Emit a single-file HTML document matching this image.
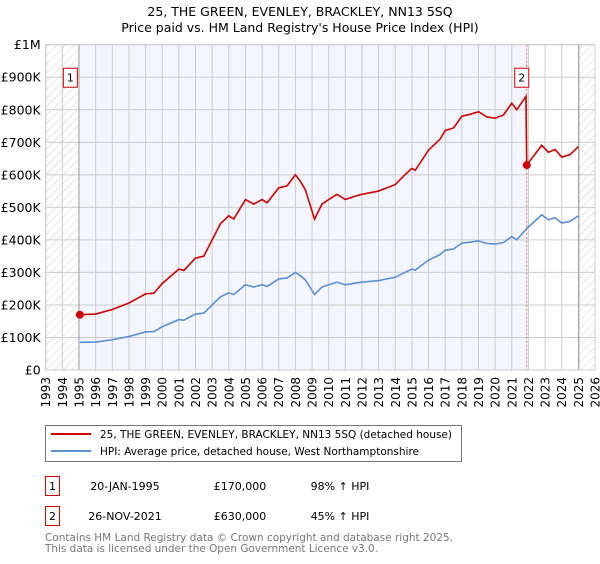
<!DOCTYPE html>
<html><head><meta charset="utf-8"><style>
body{margin:0;background:#fff;font-family:"DejaVu Sans","Liberation Sans",sans-serif;}
svg text{font-family:"DejaVu Sans","Liberation Sans",sans-serif;}
</style></head><body>
<svg id="c" width="600" height="560" xmlns="http://www.w3.org/2000/svg">
<defs><pattern id="hatch" width="6" height="6" patternUnits="userSpaceOnUse" patternTransform="rotate(45)"><line x1="0" y1="0" x2="0" y2="6" stroke="#ccc" stroke-width="1"/></pattern></defs>
<text x="300" y="16" text-anchor="middle" font-size="12.5">25, THE GREEN, EVENLEY, BRACKLEY, NN13 5SQ</text>
<text x="300" y="32" text-anchor="middle" font-size="12.5">Price paid vs. HM Land Registry's House Price Index (HPI)</text>
<g id="plot"></g>
<g>
<rect x="45.5" y="425.5" width="416" height="36" fill="#fff" stroke="#777"/>
<line x1="51" y1="434" x2="91" y2="434" stroke="#cc0000" stroke-width="2"/>
<text x="100" y="438" font-size="11" textLength="352" lengthAdjust="spacingAndGlyphs">25, THE GREEN, EVENLEY, BRACKLEY, NN13 5SQ (detached house)</text>
<line x1="51" y1="451" x2="91" y2="451" stroke="#5b8fd4" stroke-width="2"/>
<text x="100" y="455" font-size="11" textLength="319" lengthAdjust="spacingAndGlyphs">HPI: Average price, detached house, West Northamptonshire</text>
</g>
<g font-size="11">
<rect x="45.5" y="476.5" width="14" height="19" fill="#fff" stroke="#cc0000"/>
<text x="52.5" y="490" text-anchor="middle">1</text>
<text x="125" y="490" text-anchor="middle">20-JAN-1995</text>
<text x="240" y="490" text-anchor="middle">£170,000</text>
<text x="340" y="490" text-anchor="middle">98% ↑ HPI</text>
<rect x="45.5" y="506.5" width="14" height="19" fill="#fff" stroke="#cc0000"/>
<text x="52.5" y="520" text-anchor="middle">2</text>
<text x="125" y="520" text-anchor="middle">26-NOV-2021</text>
<text x="240" y="520" text-anchor="middle">£630,000</text>
<text x="340" y="520" text-anchor="middle">45% ↑ HPI</text>
</g>
<text x="45" y="541" font-size="11" fill="#777" textLength="408" lengthAdjust="spacingAndGlyphs">Contains HM Land Registry data © Crown copyright and database right 2025.</text>
<text x="45" y="552" font-size="11" fill="#777" textLength="333" lengthAdjust="spacingAndGlyphs">This data is licensed under the Open Government Licence v3.0.</text>
</svg>
<script>
const hpiYears=[1995.05,1996,1997,1998,1999,1999.5,2000,2001,2001.3,2002,2002.5,2003,2003.5,2004,2004.3,2005,2005.5,2006,2006.3,2007,2007.5,2008,2008.3,2008.6,2009.15,2009.6,2010,2010.5,2011,2011.7,2012,2013,2014,2014.5,2015,2015.2,2016,2016.7,2017,2017.5,2018,2018.5,2019,2019.5,2020,2020.5,2021,2021.3,2021.9,2022.8,2023.2,2023.6,2024,2024.5,2025];
const hpiValues=[85,86,93,103,117,118,133,155,153,172,175,200,225,237,232,262,255,262,257,280,283,300,290,277,232,255,262,270,262,268,270,275,285,298,310,307,338,355,368,372,390,393,397,389,387,392,410,400,435,477,462,468,452,457,474];
const saleYears=[1995.05,2021.9];
const saleValues=[170,630];
const saleLabels=["1","2"];
const yTicks=[0,100,200,300,400,500,600,700,800,900,1000];
const yTickLabels=["£0","£100K","£200K","£300K","£400K","£500K","£600K","£700K","£800K","£900K","£1M"];
const xTicks=[1993,1994,1995,1996,1997,1998,1999,2000,2001,2002,2003,2004,2005,2006,2007,2008,2009,2010,2011,2012,2013,2014,2015,2016,2017,2018,2019,2020,2021,2022,2023,2024,2025,2026];

const L=45.7,R=595,T=44.7,B=370;
const X=y=>L+(y-1993)*(R-L)/33;
const Y=v=>B-v*(B-T)/1000;
const NS='http://www.w3.org/2000/svg';
const g=document.getElementById('plot');
function mk(t,a,p){const e=document.createElementNS(NS,t);for(const k in a)e.setAttribute(k,a[k]);(p||g).appendChild(e);return e;}

const bg=mk('rect',{x:X(saleYears[0]),y:T,width:X(saleYears[1])-X(saleYears[0]),height:B-T,fill:'#f3f6fe'});


const h1=mk('rect',{x:L,y:T,width:X(1995)-L,height:B-T,fill:'url(#hatch)'});


const h2=mk('rect',{x:X(2025.05),y:T,width:R-X(2025.05),height:B-T,fill:'url(#hatch)'});



xTicks.forEach(t=>{
  const l=mk('line',{x1:X(t),x2:X(t),y1:T,y2:B,stroke:'#ccc','stroke-width':1});
  
  
  const tx=mk('text',{x:0,y:0,'font-size':12,'text-anchor':'end',transform:`translate(${X(t)+4.5},${B+7}) rotate(-90)`});
  tx.textContent=t;
  
  
});
yTicks.forEach((t,i)=>{
  const l=mk('line',{x1:L,x2:R,y1:Y(t),y2:Y(t),stroke:'#ccc','stroke-width':1});
  
  
  const tx=mk('text',{x:L-5,y:Y(t)+4.5,'font-size':12.5,'text-anchor':'end'});
  tx.textContent=yTickLabels[i];
  
  
});
const v1=mk('line',{x1:X(1995),x2:X(1995),y1:T,y2:B,stroke:'#999','stroke-width':1});


const v2=mk('line',{x1:X(2025.03),x2:X(2025.03),y1:T,y2:B,stroke:'#999','stroke-width':1});


const d2=mk('line',{x1:X(saleYears[1]),x2:X(saleYears[1]),y1:T,y2:B,stroke:'#e06060','stroke-width':1,'stroke-dasharray':'2,2'});



const hp=mk('polyline',{points:hpiYears.map((y,i)=>X(y)+','+Y(hpiValues[i])).join(' '),fill:'none',stroke:'#5b8fd4','stroke-width':1.6});



function hpiAt(y){for(let i=1;i<hpiYears.length;i++){if(y<=hpiYears[i]){const f=(y-hpiYears[i-1])/(hpiYears[i]-hpiYears[i-1]);return hpiValues[i-1]+f*(hpiValues[i]-hpiValues[i-1]);}}return hpiValues[hpiValues.length-1];}
const r1=saleValues[0]/hpiAt(saleYears[0]), r2=saleValues[1]/hpiAt(saleYears[1]);
const pts=[];
hpiYears.forEach((y,i)=>{if(y<saleYears[1]-0.2)pts.push([y,hpiValues[i]*r1]);});
pts.push([saleYears[1]-0.05,hpiAt(saleYears[1]-0.25)*r1]);
pts.push([saleYears[1],saleValues[1]]);
hpiYears.forEach((y,i)=>{if(y>saleYears[1])pts.push([y,hpiValues[i]*r2]);});
const pl=mk('polyline',{points:pts.map(p=>X(p[0])+','+Y(p[1])).join(' '),fill:'none',stroke:'#cc0000','stroke-width':1.6});



saleYears.forEach((y,i)=>{
  const c=mk('circle',{cx:X(y),cy:Y(saleValues[i]),r:4,fill:'#cc0000'});
  
  
  const bx=X(y)-(i===0?9.5:5);
  const b=mk('rect',{x:bx-7,y:Y(900)-9,width:14,height:19,fill:'#fff',stroke:'#cc0000'});
  
  
  const t=mk('text',{x:bx,y:Y(900)+4.5,'font-size':11,'text-anchor':'middle'});
  t.textContent=saleLabels[i];
  
  
});
const fr=mk('rect',{x:L,y:T,width:R-L,height:B-T,fill:'none',stroke:'#ccc'});


</script>
</body></html>
